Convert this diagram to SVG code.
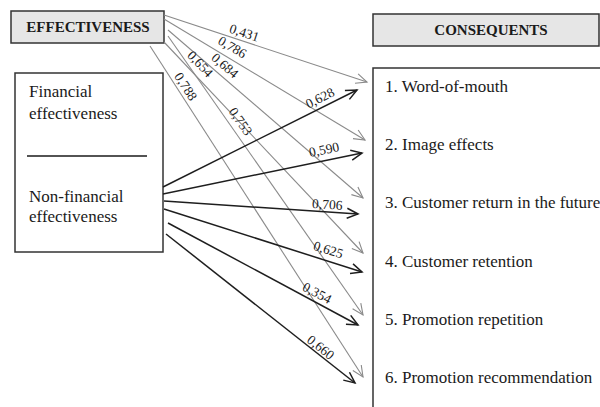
<svg xmlns="http://www.w3.org/2000/svg" width="600" height="407" viewBox="0 0 600 407">
<style>
text{font-family:"Liberation Serif","Times New Roman",serif;fill:#1a1a1a}
.hdr{font-weight:bold;font-size:15px;text-anchor:middle}
.lbl{font-size:17px}
.w{font-size:13.5px;text-anchor:middle}
.box{fill:#fff;stroke:#333;stroke-width:1.5}
.gbox{fill:#e6e6e6;stroke:#333;stroke-width:1.5}
.g{stroke:#8a8a8a;stroke-width:1.1;fill:none;marker-end:url(#ag)}
.b{stroke:#1e1e1e;stroke-width:1.5;fill:none;marker-end:url(#ab)}
</style>
<defs>
<marker id="ag" markerUnits="userSpaceOnUse" markerWidth="14" markerHeight="14" refX="12" refY="6" orient="auto" viewBox="0 0 14 12"><path d="M1,1 L12,6 L1,11" fill="none" stroke="#8a8a8a" stroke-width="1.1"/></marker>
<marker id="ab" markerUnits="userSpaceOnUse" markerWidth="14" markerHeight="14" refX="12" refY="6" orient="auto" viewBox="0 0 14 12"><path d="M1,1 L12,6 L1,11" fill="none" stroke="#1e1e1e" stroke-width="1.5"/></marker>
</defs>
<rect width="600" height="407" fill="#fff"/>
<g id="effectiveness">
<rect class="gbox" x="11" y="11" width="153" height="32"/>
<text class="hdr" x="88" y="32">EFFECTIVENESS</text>
</g>
<g id="consequents-header">
<rect class="gbox" x="373" y="14" width="226" height="32"/>
<text class="hdr" x="491" y="35">CONSEQUENTS</text>
</g>
<g id="antecedents">
<rect class="box" x="15" y="73" width="148" height="179"/>
<text class="lbl" x="29" y="97">Financial</text>
<text class="lbl" x="29" y="119">effectiveness</text>
<line x1="27" y1="156" x2="147" y2="156" stroke="#1a1a1a" stroke-width="1.5"/>
<text class="lbl" x="29" y="202">Non-financial</text>
<text class="lbl" x="29" y="222">effectiveness</text>
</g>
<g id="consequents">
<rect class="box" x="373" y="68" width="260" height="360"/>
<text class="lbl" x="385" y="92">1. Word-of-mouth</text>
<text class="lbl" x="385" y="150">2. Image effects</text>
<text class="lbl" x="385" y="208">3. Customer return in the future</text>
<text class="lbl" x="385" y="267">4. Customer retention</text>
<text class="lbl" x="385" y="325">5. Promotion repetition</text>
<text class="lbl" x="385" y="383">6. Promotion recommendation</text>
</g>
<g id="connectors">
<line class="g" x1="164" y1="15" x2="367" y2="82"/>
<line class="g" x1="164" y1="19" x2="365" y2="140"/>
<line class="g" x1="168" y1="30" x2="363" y2="198"/>
<line class="g" x1="164" y1="42" x2="363" y2="253"/>
<line class="g" x1="168" y1="36" x2="363" y2="315"/>
<line class="g" x1="150" y1="46" x2="363" y2="377"/>
<line class="b" x1="163" y1="187" x2="357" y2="90"/>
<line class="b" x1="163" y1="194" x2="362" y2="153"/>
<line class="b" x1="164" y1="201" x2="358" y2="214"/>
<line class="b" x1="164" y1="209" x2="362" y2="272"/>
<line class="b" x1="168" y1="223" x2="358" y2="325"/>
<line class="b" x1="166" y1="234" x2="355" y2="383"/>
</g>
<g id="weights">
<text class="w" transform="translate(243,37) rotate(18.3)">0,431</text>
<text class="w" transform="translate(230,51) rotate(31)">0,786</text>
<text class="w" transform="translate(222,69) rotate(40.7)">0,684</text>
<text class="w" transform="translate(197,67) rotate(46.7)">0,654</text>
<text class="w" transform="translate(237,124) rotate(55)">0,753</text>
<text class="w" transform="translate(182,89) rotate(57.2)">0,788</text>
<text class="w" transform="translate(322,102) rotate(-26.6)">0,628</text>
<text class="w" transform="translate(325,154) rotate(-11.6)">0,590</text>
<text class="w" transform="translate(327,209) rotate(3.8)">0,706</text>
<text class="w" transform="translate(327,254) rotate(17.6)">0,625</text>
<text class="w" transform="translate(315,297) rotate(28.2)">0,354</text>
<text class="w" transform="translate(318,351) rotate(38.3)">0,660</text>
</g>
</svg>
